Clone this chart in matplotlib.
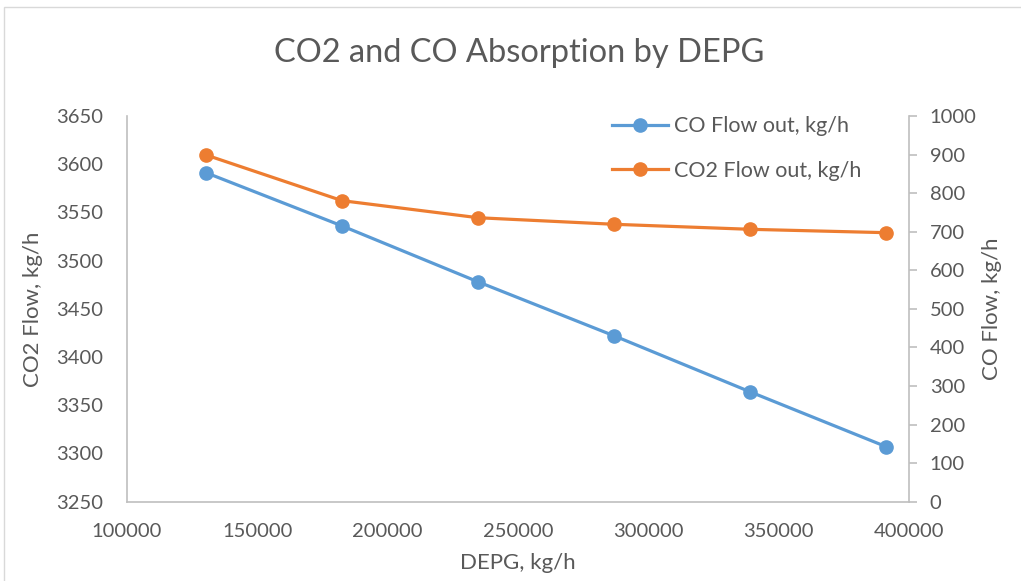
import matplotlib.pyplot as plt
from matplotlib.patches import Rectangle

plt.rcParams['font.family'] = ['Lato', 'DejaVu Sans']

# data
depg = [130300, 182500, 234700, 286900, 339000, 391100]
co2_out = [3609.6, 3562.2, 3544.5, 3537.7, 3532.5, 3529.0]
co_out = [853, 715, 570, 430, 285, 143]

x_ticks = [100000, 150000, 200000, 250000, 300000, 350000, 400000]
co2_ticks = [3250, 3300, 3350, 3400, 3450, 3500, 3550, 3600, 3650]
co_ticks = [0, 100, 200, 300, 400, 500, 600, 700, 800, 900, 1000]

blue = '#5B9BD5'
orange = '#ED7D31'
txt = '#595959'
axc = '#BFBFBF'

fig = plt.figure(figsize=(10.21, 5.81), dpi=100)
fig.patches.append(Rectangle((4 / 1021, -0.05), 1.1, (581 - 7) / 581 + 0.05,
                             transform=fig.transFigure, fill=False,
                             edgecolor='#D9D9D9', linewidth=1))

ax1 = fig.add_axes([127 / 1021, (581 - 501.7) / 581, 782 / 1021, 385.7 / 581])
ax2 = ax1.twinx()

l2, = ax1.plot(depg, co2_out, color=orange, lw=2.3, marker='o', ms=9.5,
               label='CO2 Flow out, kg/h')
l1, = ax2.plot(depg, co_out, color=blue, lw=2.3, marker='o', ms=9.5,
               label='CO Flow out, kg/h')

ax1.set_xlim(100000, 400000)
ax1.set_ylim(3250, 3650)
ax2.set_ylim(0, 1000)
ax1.set_xticks(x_ticks)
ax1.set_yticks(co2_ticks)
ax2.set_yticks(co_ticks)

for a in (ax1, ax2):
    for s in a.spines.values():
        s.set_visible(False)
ax1.spines['left'].set_visible(True)
ax1.spines['bottom'].set_visible(True)
ax2.spines['right'].set_visible(True)
ax1.spines['left'].set_color(axc)
ax1.spines['bottom'].set_color(axc)
ax2.spines['right'].set_color(axc)
ax1.spines['left'].set_linewidth(1.2)
ax1.spines['bottom'].set_linewidth(1.2)
ax2.spines['right'].set_linewidth(1.2)

ax1.tick_params(axis='x', length=0, pad=15, labelsize=14.5, labelcolor=txt)
ax1.tick_params(axis='y', length=0, pad=17, labelsize=14.5, labelcolor=txt)
ax2.tick_params(axis='y', length=6, width=1.2, color=axc, pad=9,
                labelsize=14.5, labelcolor=txt)

ax1.set_xlabel('DEPG, kg/h', fontsize=16, color=txt, labelpad=10)
ax1.set_ylabel('CO2 Flow, kg/h', fontsize=16, color=txt, labelpad=10)
ax2.set_ylabel('CO Flow, kg/h', fontsize=16, color=txt, labelpad=4)

fig.suptitle('CO2 and CO Absorption by DEPG', fontsize=23.5, color=txt,
             x=519 / 1021, y=(581 - 53) / 581, va='center')

leg = ax1.legend(handles=[l1, l2], loc='upper left', frameon=False,
                 bbox_to_anchor=(0.596, 1.05), fontsize=15.5, labelcolor=txt,
                 handlelength=2.6, handletextpad=0.25, labelspacing=1.15)

fig.savefig('out.png', dpi=100)
